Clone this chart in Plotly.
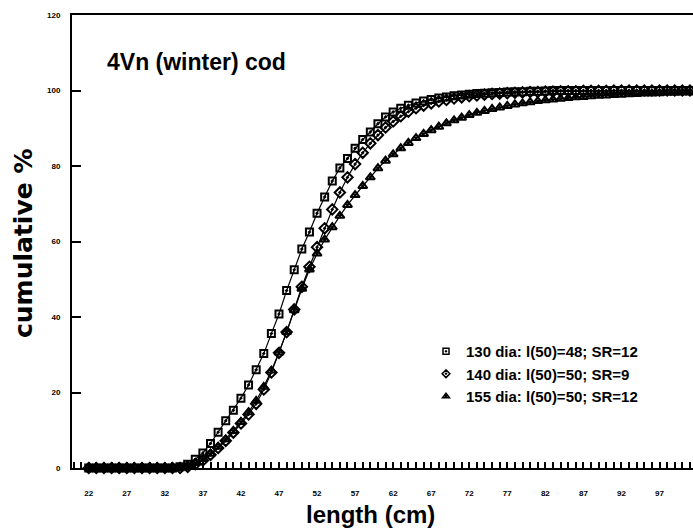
import plotly.graph_objects as go

# ---------------- data ----------------
length_cm = list(range(22, 102))

dia130 = [0, 0, 0, 0, 0, 0, 0, 0, 0, 0, 0, 0,
          0.3, 1.0, 2.3, 4.0, 6.5, 9.5, 12.5, 15.3, 18.5, 22.0, 26.0, 30.3, 35.6, 40.8,
          47.0, 52.5, 58.0, 62.5, 67.5, 71.8, 76.0, 79.5, 82.0, 84.7, 87.0, 89.0, 91.2,
          93.0, 94.3, 95.3, 96.1, 96.7, 97.2, 97.6, 98.0, 98.3, 98.6, 98.8, 99.0, 99.2,
          99.3, 99.4, 99.5, 99.6, 99.7, 99.7, 99.8, 99.8, 99.9,
          100, 100, 100, 100, 100, 100, 100, 100, 100, 100, 100, 100, 100, 100, 100,
          100, 100, 100, 100]

dia140 = [0, 0, 0, 0, 0, 0, 0, 0, 0, 0, 0, 0, 0,
          0.3, 1.0, 2.0, 3.5, 5.3, 7.2, 9.4, 11.8, 14.2, 17.0, 20.8, 25.3, 30.5, 36.0,
          42.0, 48.0, 53.3, 58.5, 63.5, 68.5, 73.0, 77.0, 80.5, 83.5, 86.0, 88.2, 90.2,
          91.8, 93.2, 94.4, 95.3, 96.0, 96.6, 97.1, 97.5, 97.9, 98.2, 98.5, 98.7, 98.9,
          99.1, 99.2, 99.3, 99.4, 99.5, 99.6, 99.6, 99.7, 99.7, 99.8, 99.8, 99.8, 99.9,
          99.9, 99.9, 99.9, 100, 100, 100, 100, 100, 100, 100, 100, 100, 100, 100]

dia155 = [0, 0, 0, 0, 0, 0, 0, 0, 0, 0, 0, 0,
          0.2, 0.6, 1.3, 2.4, 3.8, 5.6, 7.6, 9.8, 12.2, 14.8, 17.8, 21.5, 25.8, 30.6,
          36.0, 41.8, 47.5, 52.6, 56.8, 60.5, 63.8, 66.8, 69.7, 72.3, 74.7, 77.0, 79.4,
          81.4, 83.1, 84.7, 86.1, 87.4, 88.5, 89.5, 90.4, 91.3, 92.1, 92.8, 93.5, 94.1,
          94.6, 95.1, 95.5, 95.9, 96.3, 96.6, 96.9, 97.2, 97.4, 97.6, 97.8, 98.0, 98.2,
          98.3, 98.5, 98.6, 98.7, 98.8, 98.9, 99.0, 99.1, 99.2, 99.2, 99.3, 99.4, 99.4,
          99.5, 99.5]

series_names = ["130 dia: l(50)=48; SR=12",
                "140 dia: l(50)=50; SR=9",
                "155 dia: l(50)=50; SR=12"]
series_values = [dia130, dia140, dia155]
series_symbols = ["square-open-dot", "diamond-open-dot", "triangle-up-open-dot"]
series_sizes = [7, 8, 8]

x_tick_first, x_tick_step = 22, 5
x_range = [19.8, 101.4]
y_tick_vals = [0, 20, 40, 60, 80, 100, 120]

title_text = "4Vn (winter) cod"
x_title = "length (cm)"
y_title = "cumulative %"

# ---------------- figure ----------------
W, H = 693, 529
L, R, T, B = 72, 0, 15, 61
PW, PH = W - L - R, H - T - B

fig = go.Figure()
for name, vals, sym, sz in zip(series_names, series_values, series_symbols, series_sizes):
    fig.add_trace(go.Scatter(
        x=length_cm, y=vals, mode="lines+markers", name=name, showlegend=False,
        line=dict(color="black", width=1.2),
        marker=dict(symbol=sym, size=sz, color="black", line=dict(color="black", width=2)),
        cliponaxis=False,
    ))
# legend-only entries (markers only, as in the reference); they live on the
# label-carrying overlay axis so that axis gets drawn
for name, sym in zip(series_names, series_symbols):
    fig.add_trace(go.Scatter(
        x=[None], y=[None], mode="markers", name=name, showlegend=True,
        xaxis="x2", yaxis="y",
        marker=dict(symbol=sym, size=6, color="black", line=dict(color="black", width=1.5)),
    ))

font_main = "Liberation Sans, Arial, sans-serif"

fig.update_layout(
    width=W, height=H,
    margin=dict(l=L, r=R, t=T, b=B, pad=0),
    paper_bgcolor="white", plot_bgcolor="white",
    font=dict(family=font_main, color="black"),
    showlegend=True,
    legend=dict(
        x=(426 - L) / PW, y=(H - B - 335) / PH, xanchor="left", yanchor="top",
        bgcolor="rgba(0,0,0,0)", borderwidth=0,
        font=dict(family=font_main, size=15, color="black", weight="bold"),
        itemwidth=30, tracegroupgap=0,
    ),
    # main x axis: line, inside major + minor ticks, no labels
    xaxis=dict(
        range=x_range, showgrid=False, zeroline=False,
        showline=True, linecolor="black", linewidth=2, mirror=True,
        tickmode="linear", tick0=x_tick_first, dtick=x_tick_step,
        ticks="inside", ticklen=6, tickwidth=1.5, tickcolor="black",
        minor=dict(dtick=1, tick0=x_tick_first, ticks="inside", ticklen=6,
                   tickwidth=1.5, tickcolor="black", showgrid=False),
        showticklabels=False,
    ),
    # overlay x axis carrying only the tick labels, pushed down like the reference
    xaxis2=dict(
        range=x_range, overlaying="x", anchor="y", side="bottom",
        showgrid=False, zeroline=False, showline=False,
        tickmode="linear", tick0=x_tick_first, dtick=x_tick_step,
        ticks="", showticklabels=True,
        tickfont=dict(family=font_main, size=8, color="black", weight="bold"),
        ticklabelstandoff=19,
    ),
    yaxis=dict(
        range=[0, 120], showgrid=False, zeroline=False,
        showline=True, linecolor="black", linewidth=2, mirror=False,
        tickmode="array", tickvals=y_tick_vals, ticktext=[str(v) for v in y_tick_vals],
        ticks="inside", ticklen=9, tickwidth=2, tickcolor="black",
        tickfont=dict(family=font_main, size=8, color="black", weight="bold"),
        ticklabelstandoff=8,
    ),
    annotations=[
        dict(text=title_text, xref="paper", yref="paper",
             x=(105 - L) / PW, y=(H - B - 62) / PH, xanchor="left", yanchor="middle",
             showarrow=False, font=dict(family=font_main, size=23, color="black", weight="bold")),
        dict(text=x_title, xref="paper", yref="paper",
             x=(370 - L) / PW, y=(H - B - 514) / PH, xanchor="center", yanchor="middle",
             showarrow=False, font=dict(family=font_main, size=24, color="black", weight="bold")),
        dict(text=y_title, xref="paper", yref="paper",
             x=(24 - L) / PW, y=(H - B - 244) / PH, xanchor="center", yanchor="middle",
             textangle=-90, showarrow=False,
             font=dict(family="DejaVu Sans, sans-serif", size=25, color="black", weight="bold")),
    ],
)

fig.write_html("out.html")
